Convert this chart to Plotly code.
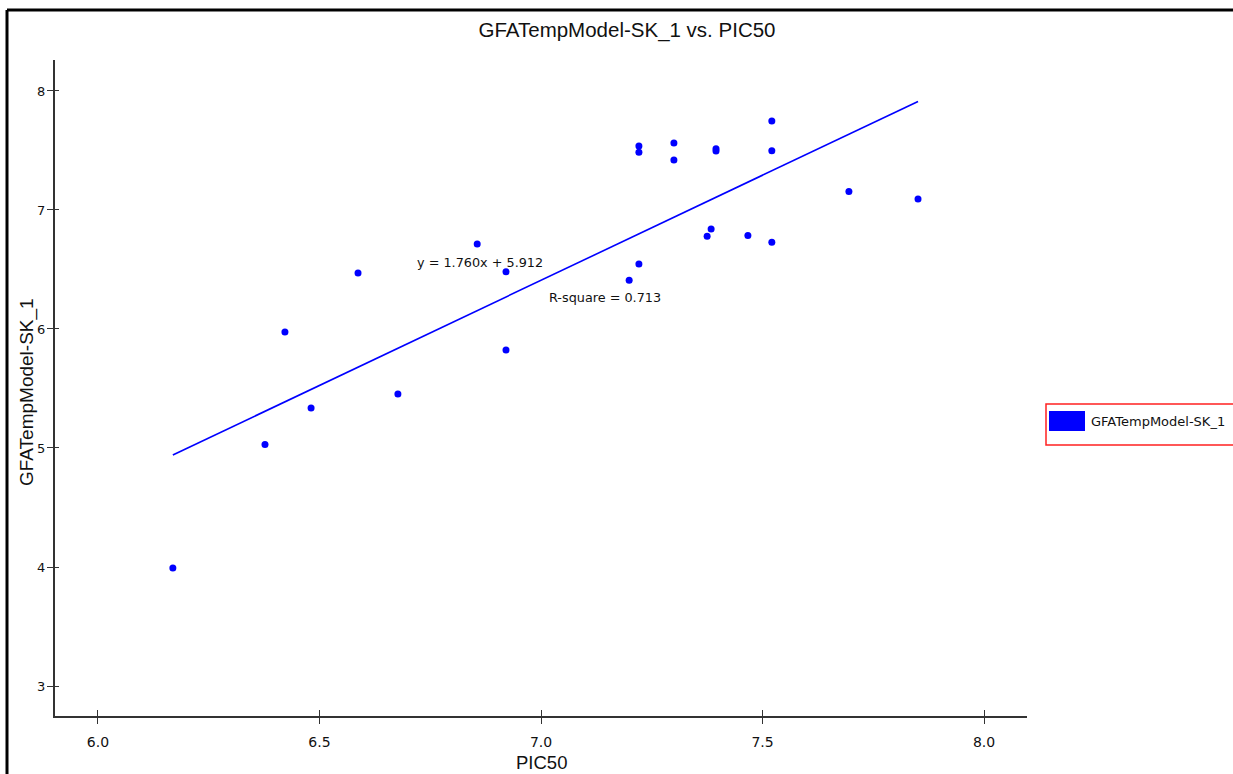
import plotly.graph_objects as go

# ---- data ----
pic50 = [6.169, 6.377, 6.422, 6.481, 6.587, 6.677, 6.856, 6.921, 6.921, 7.199,
         7.221, 7.221, 7.221, 7.300, 7.300, 7.375, 7.384, 7.395, 7.395, 7.467,
         7.521, 7.521, 7.521, 7.695, 7.851]
gfa = [3.992, 5.030, 5.975, 5.336, 6.471, 5.454, 6.714, 6.480, 5.824, 6.410,
       6.546, 7.538, 7.485, 7.563, 7.420, 6.780, 6.840, 7.515, 7.495, 6.785,
       7.748, 7.497, 6.728, 7.155, 7.092]
fit_x = [6.169, 7.851]
fit_y = [4.941, 7.912]
x_ticks = [6.0, 6.5, 7.0, 7.5, 8.0]
x_tick_text = ["6.0", "6.5", "7.0", "7.5", "8.0"]
y_ticks = [3, 4, 5, 6, 7, 8]
eq_text = "y = 1.760x + 5.912"
r2_text = "R-square = 0.713"
series_name = "GFATempModel-SK_1"
x_title = "PIC50"
title_text = "GFATempModel-SK_1 vs. PIC50"

BLUE = "#0000ff"
AX = "#333333"
TXT = "#111111"
TITLE_FONT = "Liberation Sans"

W, H = 1233, 774
PL, PR, PT, PB = 55, 1027, 60, 716   # plot area in window pixels

fig = go.Figure()
fig.add_trace(go.Scatter(x=fit_x, y=fit_y, mode="lines",
                         line=dict(color=BLUE, width=1.6), showlegend=False,
                         hoverinfo="skip"))
fig.add_trace(go.Scatter(x=pic50, y=gfa, mode="markers", name=series_name,
                         marker=dict(color=BLUE, size=7), showlegend=False))

xr = [5.903, 8.097]
yr = [2.748, 8.26]

fig.update_layout(
    width=W, height=H,
    margin=dict(l=PL, r=W - PR, t=PT, b=H - PB, pad=0, autoexpand=False),
    paper_bgcolor="white", plot_bgcolor="white",
    font=dict(family="Liberation Sans", color=TXT, size=13),
    title=dict(text=title_text, x=627 / W, xanchor="center",
               y=1 - 30 / H, yanchor="middle",
               font=dict(family=TITLE_FONT, size=20.5, color=TXT)),
    xaxis=dict(range=xr, tickvals=x_ticks, ticktext=x_tick_text, automargin=False,
               showgrid=False, zeroline=False, showline=True, linecolor=AX, linewidth=2,
               ticks="outside", ticklen=6, tickwidth=1, tickcolor=AX,
               ticklabelstandoff=6,
               tickfont=dict(family="DejaVu Sans", size=14)),
    yaxis=dict(range=yr, tickvals=y_ticks, automargin=False,
               showgrid=False, zeroline=False, showline=True, linecolor=AX, linewidth=2,
               ticks="outside", ticklen=6, tickwidth=1, tickcolor=AX,
               ticklabelstandoff=-1,
               tickfont=dict(family="DejaVu Sans", size=13)),
    xaxis2=dict(range=xr, overlaying="x", anchor="y", side="bottom", tickvals=x_ticks,
                automargin=False,
                showticklabels=False, showgrid=False, zeroline=False, showline=False,
                ticks="inside", ticklen=6, tickwidth=1, tickcolor=AX),
    yaxis2=dict(range=yr, overlaying="y", anchor="x", side="left", tickvals=y_ticks,
                automargin=False,
                showticklabels=False, showgrid=False, zeroline=False, showline=False,
                ticks="inside", ticklen=4, tickwidth=1, tickcolor=AX),
    showlegend=False,
)

# invisible helper trace so the overlay axes render
fig.add_trace(go.Scatter(x=[xr[0]], y=[yr[0]], xaxis="x2", yaxis="y2", mode="markers",
                         marker=dict(opacity=0), showlegend=False, hoverinfo="skip"))

# regression annotations
fig.add_annotation(x=6.862, y=6.555, text=eq_text, showarrow=False,
                   font=dict(family="DejaVu Sans", size=12.8, color=TXT))
fig.add_annotation(x=7.144, y=6.262, text=r2_text, showarrow=False,
                   font=dict(family="DejaVu Sans", size=12.8, color=TXT))

def px(xp):
    return (xp - PL) / (PR - PL)

def py(yp):
    return (PB - yp) / (PB - PT)

# axis titles
fig.add_annotation(xref="paper", yref="paper", x=px(541), y=py(762), text=x_title,
                   showarrow=False, xanchor="center", yanchor="middle",
                   font=dict(family=TITLE_FONT, size=18.5, color=TXT))
fig.add_annotation(xref="paper", yref="paper", x=px(27), y=py(392), text=series_name,
                   textangle=-90, showarrow=False, xanchor="center", yanchor="middle",
                   font=dict(family=TITLE_FONT, size=19, color=TXT))

# outer frame (top and left edges, as in the reference crop)
fig.add_shape(type="line", xref="paper", yref="paper", x0=px(7), x1=px(1240),
              y0=py(10), y1=py(10), line=dict(color="black", width=3))
fig.add_shape(type="line", xref="paper", yref="paper", x0=px(7), x1=px(7),
              y0=py(10), y1=py(H + 5), line=dict(color="black", width=3))

# manual legend box
fig.add_shape(type="rect", xref="paper", yref="paper", x0=px(1046), x1=px(1245),
              y0=py(445), y1=py(404), line=dict(color="#ff2020", width=1.5),
              fillcolor="white")
fig.add_shape(type="rect", xref="paper", yref="paper", x0=px(1049), x1=px(1085),
              y0=py(431), y1=py(411), line=dict(color=BLUE, width=0),
              fillcolor=BLUE)
fig.add_annotation(xref="paper", yref="paper", x=px(1089), y=py(421), xanchor="left",
                   yanchor="middle", text=series_name, showarrow=False,
                   font=dict(family="DejaVu Sans", size=13, color=TXT))

fig.write_html("out.html", config={"displayModeBar": False},
               post_script="document.body.style.margin='0';document.body.style.overflow='hidden';")
